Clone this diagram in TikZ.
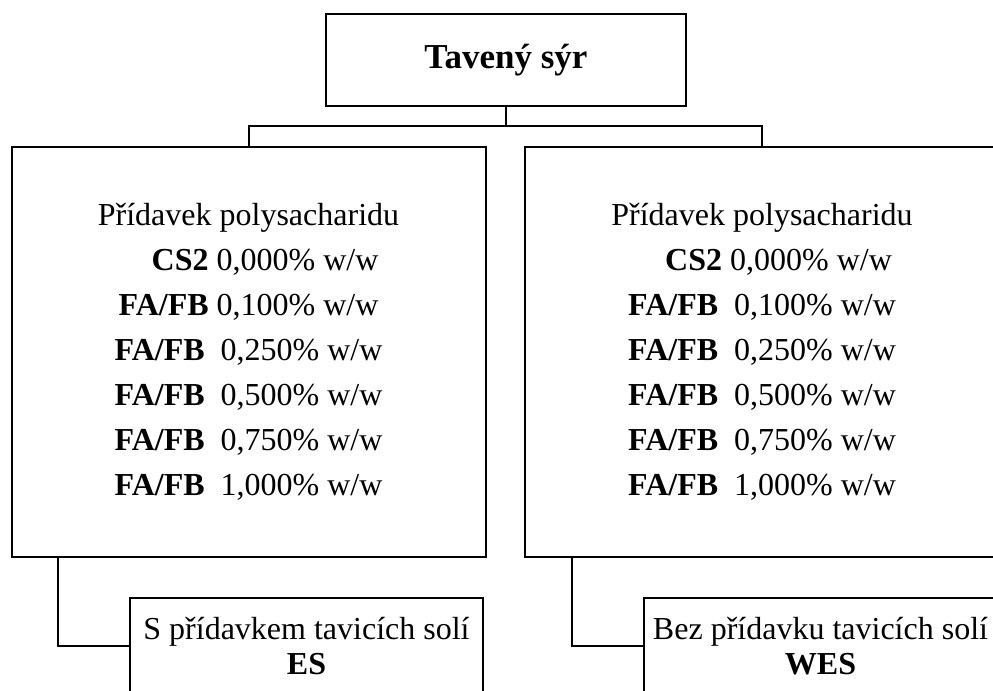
\documentclass[tikz,border=0pt]{standalone}
\usepackage{fontspec}
\setmainfont{Liberation Serif}
\begin{document}
\begin{tikzpicture}[
        x=0.5pt, y=-0.5pt,
        every node/.style={draw, rectangle, line width=1pt, inner sep=0pt, align=center, font=\fontsize{16}{22.5}\selectfont},
        topbox/.style={minimum width=180pt, minimum height=46pt, font=\fontsize{17.5}{20}\selectfont\bfseries},
        groupbox/.style={minimum width=237pt, minimum height=205pt},
        saltbox/.style={minimum width=176.5pt, minimum height=48pt, font=\fontsize{16}{17.5}\selectfont},
        link/.style={line width=1pt},
    ]
    \useasboundingbox (0,0) rectangle (993,691);
    \clip (0,0) rectangle (993,691);
    \node[topbox](syr) at (506,60) {Tavený sýr};
    \node[groupbox](left) at (248.5,352) {Přídavek polysacharidu\\
        \hphantom{\textbf{FA/FB}}\llap{\textbf{CS2}} 0,000\% w/w\\
        \textbf{FA/FB} 0,100\% w/w\\
        \textbf{FA/FB}\ \ 0,250\% w/w\\
        \textbf{FA/FB}\ \ 0,500\% w/w\\
        \textbf{FA/FB}\ \ 0,750\% w/w\\
        \textbf{FA/FB}\ \ 1,000\% w/w};
    \node[groupbox](right) at (762,352) {Přídavek polysacharidu\\
        \hphantom{\textbf{FA/FB}}\llap{\textbf{CS2}} 0,000\% w/w\\
        \textbf{FA/FB}\ \ 0,100\% w/w\\
        \textbf{FA/FB}\ \ 0,250\% w/w\\
        \textbf{FA/FB}\ \ 0,500\% w/w\\
        \textbf{FA/FB}\ \ 0,750\% w/w\\
        \textbf{FA/FB}\ \ 1,000\% w/w};
    \node[saltbox](es) at (306.5,646) {S přídavkem tavicích solí\\ \textbf{ES}};
    \node[saltbox](wes) at (820.5,646) {Bez přídavku tavicích solí\\ \textbf{WES}};
    % branches
    \coordinate (bus) at (506,126);
    \draw[link] (syr.south) -- (bus);
    \draw[link] (left.north) |- (bus) -| (right.north);
    \draw[link] (left.south west) ++(47,0) |- (es.west);
    \draw[link] (right.south west) ++(48,0) |- (wes.west);
\end{tikzpicture}
\end{document}
